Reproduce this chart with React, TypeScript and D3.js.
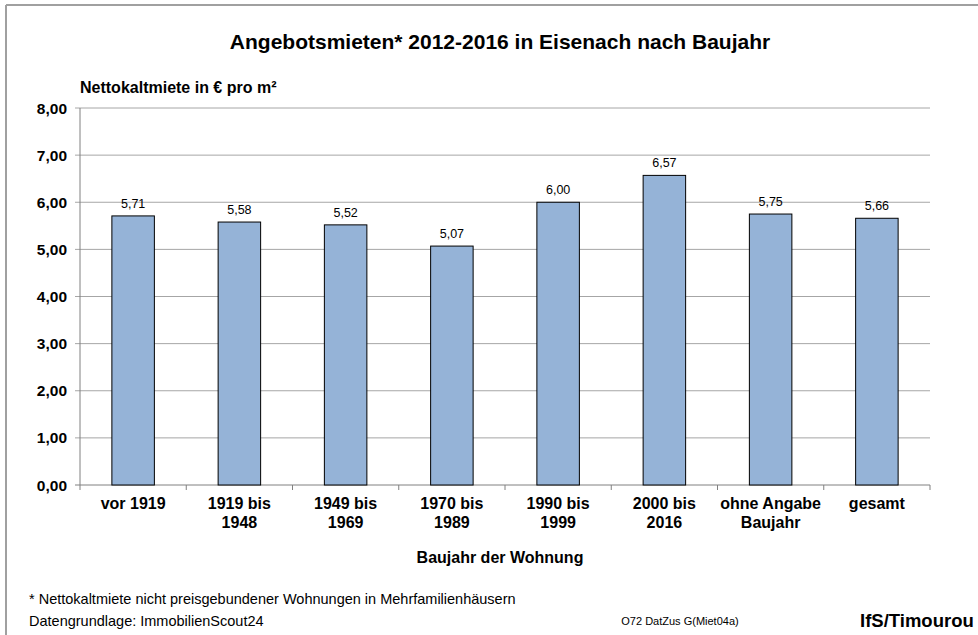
import React from 'react';
import * as d3 from 'd3';

// Angebotsmieten nach Baujahr (Eisenach)
const categories: string[][] = [
  ['vor 1919'],
  ['1919 bis', '1948'],
  ['1949 bis', '1969'],
  ['1970 bis', '1989'],
  ['1990 bis', '1999'],
  ['2000 bis', '2016'],
  ['ohne Angabe', 'Baujahr'],
  ['gesamt'],
];
const values: number[] = [5.71, 5.58, 5.52, 5.07, 6.0, 6.57, 5.75, 5.66];
const yTicks: number[] = [0, 1, 2, 3, 4, 5, 6, 7, 8];

const W = 978;
const H = 635;
const margin = { top: 108, right: 48, bottom: 150, left: 80 };
const font = 'Liberation Sans, Arial, sans-serif';
const fmt = (v: number) => v.toFixed(2).replace('.', ',');

const App = () => {
  const x = d3
    .scaleBand<number>()
    .domain(d3.range(values.length))
    .range([margin.left, W - margin.right])
    .paddingInner(0.6)
    .paddingOuter(0.3);
  const y = d3.scaleLinear().domain([0, 8]).range([H - margin.bottom, margin.top]);
  const step = x.step();
  const x0 = margin.left;
  const x1 = W - margin.right;
  const y0 = y(0);

  return (
    <svg width={W} height={H} style={{ position: 'absolute', left: 0, top: 0, background: '#fff' }} fontFamily={font}>
      {/* frame */}
      <line x1={6} x2={978} y1={5} y2={5} stroke="#a0a0a0" strokeWidth={2} />
      <line x1={6} x2={6} y1={5} y2={H} stroke="#a0a0a0" strokeWidth={2} />

      <text x={500} y={49} textAnchor="middle" fontSize={21} fontWeight="bold">
        Angebotsmieten* 2012-2016 in Eisenach nach Baujahr
      </text>
      <text x={80} y={93} fontSize={16} fontWeight="bold">
        Nettokaltmiete in € pro m²
      </text>

      {/* grid + y axis */}
      {yTicks.map(t => (
        <g key={t}>
          <line x1={x0 - 5} x2={x1} y1={y(t)} y2={y(t)} stroke={t === 0 ? '#808080' : '#a6a6a6'} strokeWidth={1} />
          <text x={67} y={y(t) + 5.5} textAnchor="end" fontSize={15.5} fontWeight="bold">
            {fmt(t)}
          </text>
        </g>
      ))}
      <line x1={x0} x2={x0} y1={y(8)} y2={y0} stroke="#808080" />

      {/* x ticks */}
      {d3.range(values.length + 1).map(i => (
        <line key={i} x1={x0 + i * step} x2={x0 + i * step} y1={y0} y2={y0 + 5} stroke="#808080" />
      ))}

      {/* bars */}
      {values.map((v, i) => (
        <g key={i}>
          <rect
            x={x(i)!}
            y={y(v)}
            width={x.bandwidth()}
            height={y0 - y(v)}
            fill="#95b3d7"
            stroke="#000"
            strokeWidth={1}
          />
          <text x={x(i)! + x.bandwidth() / 2} y={y(v) - 8} textAnchor="middle" fontSize={12.5}>
            {fmt(v)}
          </text>
        </g>
      ))}

      {/* category labels */}
      {categories.map((lines, i) => (
        <text key={i} x={x(i)! + x.bandwidth() / 2} textAnchor="middle" fontSize={16} fontWeight="bold">
          {lines.map((l, j) => (
            <tspan key={j} x={x(i)! + x.bandwidth() / 2} y={509 + j * 19}>
              {l}
            </tspan>
          ))}
        </text>
      ))}

      <text x={500} y={563} textAnchor="middle" fontSize={16} fontWeight="bold">
        Baujahr der Wohnung
      </text>

      <text x={29} y={604} fontSize={14.5}>
        * Nettokaltmiete nicht preisgebundener Wohnungen in Mehrfamilienhäusern
      </text>
      <text x={29} y={626} fontSize={14.5}>
        Datengrundlage: ImmobilienScout24
      </text>
      <text x={680} y={625} textAnchor="middle" fontSize={11}>
        O72 DatZus G(Miet04a)
      </text>
      <text x={860} y={627} fontSize={18.5} fontWeight="bold">
        IfS/Timourou
      </text>
    </svg>
  );
};

export default App;
